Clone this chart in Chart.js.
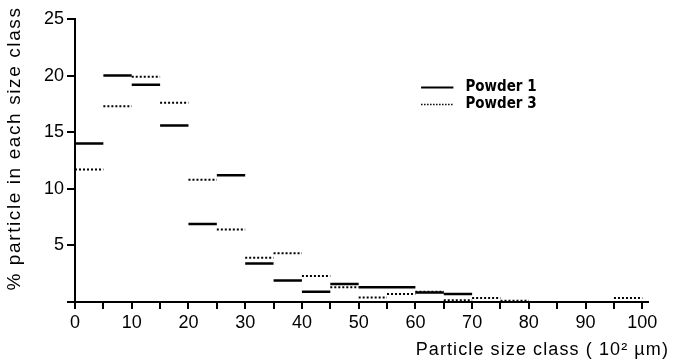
<!DOCTYPE html>
<html>
<head>
<meta charset="utf-8">
<script src="https://cdn.jsdelivr.net/npm/chart.js@4.4.1/dist/chart.umd.min.js"></script>
<style>
    html, body { margin: 0; padding: 0; background: #fff; }
    #wrap { width: 674px; height: 361px; position: relative; }
</style>
</head>
<body>
<div id="wrap"><canvas id="psdChart"></canvas></div>
<script>
// size classes (lower bound, 10^2 um), each 5 wide
const classStarts = [0, 5, 10, 15, 20, 25, 30, 35, 40, 45, 50, 55, 60, 65, 70, 75, 80, 85, 90, 95];
const classWidth = 5;
// % particle in each size class (null = nothing drawn)
const powder1 = [14.0, 20.0, 19.2, 15.6, 6.9, 11.2, 3.4, 1.9, 0.9, 1.6, 1.3, 1.3, 0.85, 0.7, null, null, null, null, null, null];
const powder3 = [11.7, 17.3, 19.9, 17.6, 10.8, 6.4, 3.9, 4.3, 2.3, 1.3, 0.4, 0.7, 0.9, 0.15, 0.35, 0.1, null, null, null, 0.35];
const seriesNames = ['Powder 1', 'Powder 3'];
const xTicksLabelled = [0, 10, 20, 30, 40, 50, 60, 70, 80, 90, 100];
const yTicksLabelled = [5, 10, 15, 20, 25];
const xTitle = 'Particle size class ( 10² µm)';
const yTitle = '% particle in each size class';

const fontMain = '"Liberation Sans", Arial, sans-serif';

// turn per-class values into flat horizontal steps, broken between classes
function toSteps(values) {
    const pts = [];
    values.forEach((v, i) => {
        if (v === null) return;
        const lo = classStarts[i];
        pts.push({ x: lo, y: v }, { x: lo + classWidth, y: v }, { x: lo + classWidth, y: null });
    });
    return pts;
}

// legend inside the plot + axis titles (need letter spacing, so drawn by hand)
const extrasPlugin = {
    id: 'extras',
    afterDraw(chart) {
        const { ctx, scales: { x, y } } = chart;
        const x0 = x.getPixelForValue(61), x1 = x.getPixelForValue(66.7);
        const rows = [18.95, 17.45];
        ctx.save();
        chart.data.datasets.forEach((ds, i) => {
            const py = Math.round(y.getPixelForValue(rows[i])) + 0.5;
            ctx.beginPath();
            ctx.strokeStyle = '#000';
            ctx.lineWidth = i === 0 ? 2 : 1.5;
            ctx.setLineDash(i === 0 ? [] : [1.5, 1.5]);
            ctx.moveTo(x0, py);
            ctx.lineTo(x1, py);
            ctx.stroke();
            ctx.setLineDash([]);
            ctx.fillStyle = '#000';
            ctx.font = 'bold 15px "DejaVu Sans Condensed", "DejaVu Sans", sans-serif';
            ctx.textBaseline = 'middle';
            ctx.textAlign = 'left';
            ctx.fillText(ds.label, x1 + 12, py);
        });

        // x title, right aligned near the canvas edge
        ctx.font = '18px ' + fontMain;
        ctx.letterSpacing = '1.1px';
        ctx.textAlign = 'right';
        ctx.textBaseline = 'alphabetic';
        ctx.fillText(xTitle, chart.width - 5, 355);

        // y title, rotated
        ctx.translate(15, (y.top + y.bottom) / 2 - 12);
        ctx.rotate(-Math.PI / 2);
        ctx.font = '19px ' + fontMain;
        ctx.letterSpacing = '1.6px';
        ctx.textAlign = 'center';
        ctx.textBaseline = 'middle';
        ctx.fillText(yTitle, 0, 0);
        ctx.restore();
    }
};

const ctx = document.getElementById('psdChart').getContext('2d');
new Chart(ctx, {
    type: 'line',
    data: {
        datasets: [
            { label: seriesNames[0], data: toSteps(powder1), borderColor: '#000', borderWidth: 2.5, pointRadius: 0, spanGaps: false, fill: false },
            { label: seriesNames[1], data: toSteps(powder3), borderColor: '#000', borderWidth: 2, borderDash: [2, 2], pointRadius: 0, spanGaps: false, fill: false }
        ]
    },
    options: {
        responsive: true,
        maintainAspectRatio: false,
        animation: false,
        layout: { padding: { left: 0, top: 19, right: 26, bottom: 0 } },
        plugins: { legend: { display: false }, tooltip: { enabled: false } },
        scales: {
            x: {
                type: 'linear',
                min: 0,
                max: 101,
                border: { color: '#000', width: 2 },
                grid: { drawOnChartArea: false, color: '#000', lineWidth: 2, tickLength: 7 },
                ticks: {
                    stepSize: 5,
                    includeBounds: false,
                    color: '#000',
                    padding: 3,
                    maxRotation: 0,
                    autoSkip: false,
                    font: { family: fontMain, size: 18 },
                    callback: v => xTicksLabelled.includes(v) ? String(v) : ''
                },
                afterFit: s => { s.height = 59; }
            },
            y: {
                min: 0,
                max: 25,
                border: { color: '#000', width: 2 },
                grid: { drawOnChartArea: false, color: '#000', lineWidth: 2, tickLength: 8 },
                ticks: {
                    stepSize: 5,
                    color: '#000',
                    padding: 3,
                    font: { family: fontMain, size: 18 },
                    callback: v => yTicksLabelled.includes(v) ? String(v) : ''
                },
                afterFit: s => { s.width = 75; }
            }
        }
    },
    plugins: [extrasPlugin]
});
</script>
</body>
</html>
